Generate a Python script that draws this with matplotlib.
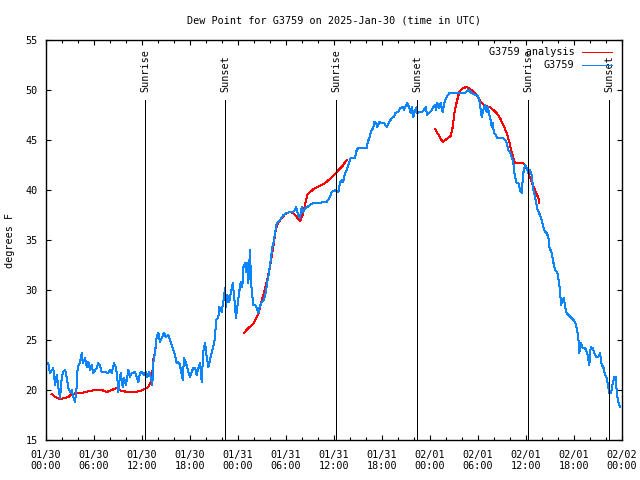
import numpy as np
import matplotlib
matplotlib.use("Agg")
import matplotlib.pyplot as plt
from matplotlib.ticker import MultipleLocator

# Hours since 2025-01-30 00:00 UTC
obs_hours = [0.29,0.5,0.91,1.13,1.34,1.54,1.75,1.96,2.16,2.38,2.59,2.79,3.0,3.21,3.41,3.63,3.84,3.96,4.25,4.46,4.59,4.88,5.09,5.29,5.5,5.71,5.91,6.34,6.54,6.75,6.96,7.38,7.79,8.0,8.21,8.5,8.75,8.91,9.04,9.16,9.34,9.59,9.75,10.0,10.16,10.29,10.5,10.71,11.13,11.34,11.54,11.75,11.96,12.25,12.5,12.66,12.91,13.13,13.29,13.41,13.63,13.84,14.04,14.25,14.46,14.75,15.0,15.29,15.5,15.91,16.13,16.34,16.54,16.75,16.96,17.09,17.25,17.5,17.79,18.0,18.21,18.41,18.63,18.84,19.04,19.25,19.46,19.66,19.88,20.09,20.29,20.5,20.71,20.91,21.13,21.25,21.54,21.66,21.96,22.16,22.38,22.5,22.66,22.91,23.09,23.34,23.54,23.75,23.91,24.13,24.34,24.54,24.66,24.88,25.0,25.16,25.29,25.41,25.5,25.63,25.79,25.91,26.13,26.34,26.54,26.66,26.96,27.25,27.46,27.66,27.88,28.09,28.29,28.5,28.84,29.25,29.66,30.09,30.5,30.91,31.13,31.25,31.54,31.75,31.96,32.16,32.38,32.66,33.0,33.41,34.25,34.66,35.09,35.5,35.71,36.13,36.54,36.75,36.96,37.16,37.38,37.59,37.79,38.09,38.63,38.84,39.04,40.09,40.21,40.41,40.71,40.91,41.0,41.25,41.41,41.66,41.96,42.25,42.59,42.91,43.21,43.5,43.63,44.04,44.25,44.59,44.75,45.0,45.16,45.41,45.59,45.75,45.91,46.13,46.34,46.41,46.66,46.96,47.25,47.46,47.66,47.91,48.21,48.41,48.63,48.75,48.91,49.16,49.34,49.59,49.88,50.09,50.41,51.34,52.16,52.38,52.79,53.21,53.63,53.91,54.16,54.25,54.38,54.46,54.66,54.88,55.09,55.21,55.38,55.5,55.63,55.71,55.84,56.0,56.25,56.41,57.16,57.38,57.59,57.79,58.0,58.21,58.41,58.5,58.63,58.84,59.04,59.25,59.46,59.66,59.88,60.09,60.29,60.5,60.71,60.91,61.13,61.34,61.46,61.75,61.96,62.16,62.38,62.59,62.79,62.91,63.21,63.41,63.54,63.63,63.91,64.04,64.25,64.38,64.59,64.75,64.88,65.09,65.29,65.71,66.13,66.34,66.54,66.66,66.84,67.09,67.38,67.66,67.91,68.09,68.34,68.54,68.75,69.04,69.25,69.46,69.66,69.88,70.09,70.29,70.41,70.63,70.84,71.04,71.25,71.34,71.54,71.75]
obs_dewpt = [22.7,21.7,22.2,20.5,21.5,20.3,19.2,21.2,21.8,22.0,21.3,20.2,19.8,20.0,19.3,18.8,20.3,22.3,22.7,23.7,22.7,23.2,22.3,22.8,22.0,22.5,21.7,22.2,22.7,22.5,21.8,21.8,21.7,22.0,21.7,22.7,22.2,21.2,19.8,20.8,21.7,20.3,21.2,20.5,21.3,22.0,21.3,21.7,21.8,21.3,20.8,21.7,21.8,21.5,21.8,21.3,21.8,21.2,20.5,22.7,23.8,25.3,25.7,24.8,25.2,25.7,25.3,25.5,25.0,24.0,23.5,22.7,22.8,22.5,21.5,21.0,23.2,22.7,21.8,21.3,21.8,22.2,22.2,21.5,22.2,22.7,20.8,23.8,24.7,23.3,22.3,23.0,23.7,24.3,25.2,27.0,27.2,28.3,27.8,28.8,30.2,28.3,29.5,28.8,29.7,30.7,29.2,27.2,28.3,29.7,30.8,30.3,32.3,32.7,31.8,32.7,30.7,32.7,34.0,30.7,29.5,28.5,28.5,28.2,27.7,28.2,28.8,29.0,29.7,30.8,31.8,33.0,34.3,35.0,36.7,37.0,37.5,37.7,37.8,37.8,38.0,38.3,37.5,37.2,38.3,37.8,38.2,38.3,38.5,38.7,38.7,38.8,38.8,39.3,39.8,40.0,39.8,40.7,41.0,40.8,41.7,42.0,42.5,43.2,43.2,44.0,44.2,44.2,44.8,45.2,46.0,46.2,46.8,46.7,46.3,46.8,46.7,46.7,46.3,46.8,47.2,47.3,47.7,47.8,48.2,48.3,48.0,48.5,48.7,48.2,47.7,48.3,47.3,48.0,48.3,47.7,47.8,47.8,48.0,48.3,47.5,47.7,48.0,48.3,48.5,48.0,48.7,48.2,48.7,47.8,49.0,49.3,49.7,49.7,49.7,49.7,50.0,49.7,49.5,49.5,49.0,48.5,47.8,47.3,48.0,48.5,47.8,48.3,47.7,47.2,46.8,46.3,46.7,45.7,45.5,45.2,45.2,45.0,44.7,44.0,43.8,43.3,42.8,42.0,41.3,40.7,40.7,40.0,39.7,41.7,42.5,42.2,41.7,42.0,41.5,40.0,39.3,38.5,38.0,37.5,37.0,36.3,35.8,35.7,35.3,34.3,33.7,32.8,32.3,32.0,31.8,31.2,30.0,28.5,29.0,29.2,28.3,27.7,27.5,27.2,26.8,26.2,25.2,23.7,24.7,24.2,24.2,23.7,22.5,24.3,24.2,23.7,23.3,23.3,23.7,22.5,22.3,21.5,21.2,20.3,19.7,19.7,20.7,21.3,21.3,19.7,18.8,18.3]

# Analysis series (NaN marks gaps)
ana_hours = [0.71,1.13,1.75,2.38,2.79,3.21,3.84,4.46,4.88,5.5,6.13,6.96,7.59,8.21,8.84,9.46,10.29,11.13,11.75,12.38,12.79,13.09,13.29,13.41,13.63,13.75,
             19.0,
             24.75,25.29,25.91,26.54,27.16,27.59,28.0,28.41,28.75,29.04,29.46,29.88,30.5,30.91,31.34,31.75,32.09,32.38,32.66,33.0,33.63,34.25,34.88,35.5,35.91,36.34,36.96,37.59,
             43.0,
             48.63,49.59,50.09,50.59,50.84,51.04,51.34,51.66,52.16,52.59,53.0,53.63,54.04,54.46,54.88,55.5,55.91,56.34,56.75,57.16,57.59,57.91,58.21,58.5,58.63,59.66,60.0,60.29,60.71,61.13,61.54,61.66]
ana_dewpt = [19.6,19.3,19.1,19.2,19.3,19.6,19.7,19.7,19.8,19.9,20.0,20.0,19.8,20.0,20.2,19.9,19.8,19.8,19.9,20.1,20.3,20.8,21.7,23.0,23.8,24.5,
             np.nan,
             25.7,26.2,26.6,27.6,29.5,30.8,32.3,34.3,36.2,36.7,37.2,37.6,37.8,37.7,37.3,36.9,37.5,38.5,39.5,39.8,40.2,40.4,40.7,41.1,41.4,41.8,42.3,43.0,
             np.nan,
             46.1,44.8,45.1,45.4,46.3,47.7,48.8,49.8,50.2,50.3,50.1,49.7,49.2,48.7,48.4,48.3,48.0,47.7,47.2,46.5,45.7,44.8,43.8,43.0,42.7,42.7,42.3,41.7,40.8,40.0,39.2,38.7]

sun_hours = [12.4, 22.4, 36.25, 46.4, 60.28, 70.4]
sun_labels = ["Sunrise", "Sunset", "Sunrise", "Sunset", "Sunrise", "Sunset"]

xtick_hours = list(range(0, 73, 6))
xtick_labels = ["01/30\n00:00", "01/30\n06:00", "01/30\n12:00", "01/30\n18:00",
                "01/31\n00:00", "01/31\n06:00", "01/31\n12:00", "01/31\n18:00",
                "02/01\n00:00", "02/01\n06:00", "02/01\n12:00", "02/01\n18:00",
                "02/02\n00:00"]

FONT = "DejaVu Sans Mono"
FS = 7.3
plt.rcParams['font.family'] = FONT
plt.rcParams['font.size'] = FS

fig = plt.figure(figsize=(6.4, 4.8), dpi=100)
ax = fig.add_axes([46/640, 1-440/480, 576/640, 400/480])

LW = 0.72
ax.plot(ana_hours, ana_dewpt, color='#ff0000', lw=LW, antialiased=False, label='G3759 analysis')
ax.plot(obs_hours, obs_dewpt, color='#0a84ff', lw=LW, antialiased=False, label='G3759')

for h, lab in zip(sun_hours, sun_labels):
    ax.plot([h, h], [15, 49], color='black', lw=LW, antialiased=False)
    ax.text(h, 49.8, lab, rotation=90, ha='center', va='bottom', fontsize=FS)

ax.set_xlim(0, 72)
ax.set_ylim(15, 55)
ax.set_xticks(xtick_hours)
ax.set_xticklabels(xtick_labels)
ax.xaxis.set_minor_locator(MultipleLocator(2))
ax.set_yticks(range(15, 56, 5))
ax.tick_params(axis='both', which='major', direction='in', length=3.3, width=0.8,
               top=True, right=True, labelsize=FS)
ax.tick_params(axis='x', which='major', pad=7)
ax.tick_params(axis='y', which='major', pad=6)
ax.tick_params(axis='x', which='minor', direction='in', length=2.2, width=0.8, top=True)
for s in ax.spines.values():
    s.set_linewidth(1.0)

ax.set_title("Dew Point for G3759 on 2025-Jan-30 (time in UTC)", fontsize=FS, pad=12)
fig.text(10/640, 0.5, "degrees F", rotation=90, ha='center', va='center', fontsize=FS)

leg = ax.legend(loc='upper right', markerfirst=False, frameon=False, fontsize=FS,
                handlelength=3.0, handletextpad=0.7, borderaxespad=0.3, labelspacing=0.3,
                bbox_to_anchor=(0.995, 1.0))
fig.savefig("out.png", dpi=100)
